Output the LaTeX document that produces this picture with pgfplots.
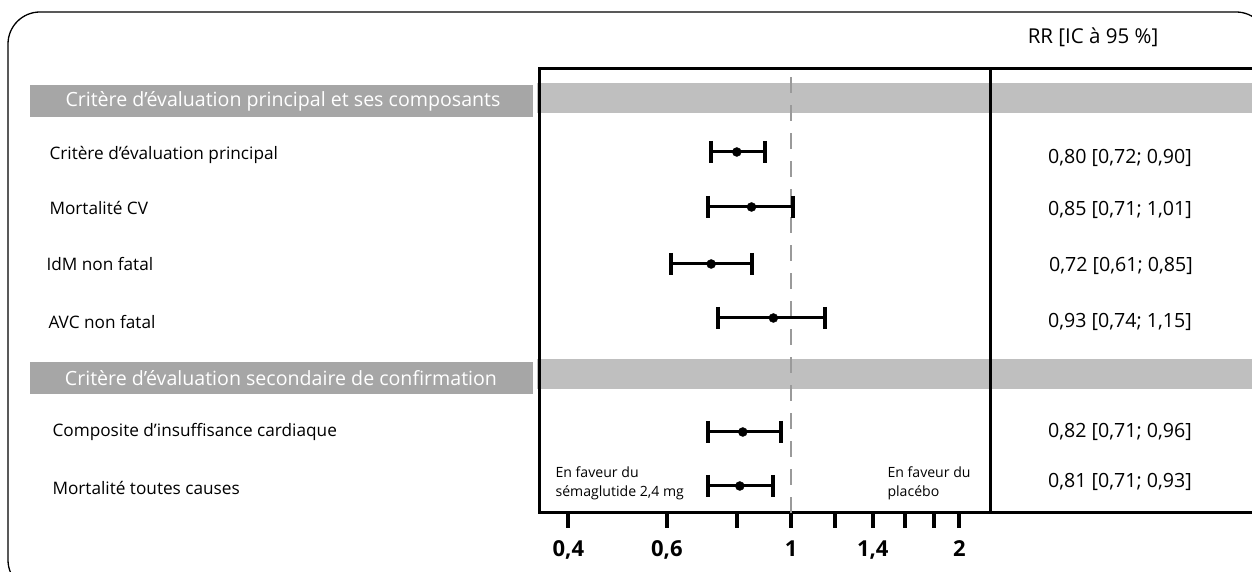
\documentclass[border=0pt]{standalone}
\usepackage{fontspec}
\setmainfont{Open Sans}
\usepackage{pgfplots}
\pgfplotsset{compat=1.18}
\usepackage{pgfplotstable}
\definecolor{bandL}{HTML}{A6A6A6}
\definecolor{bandR}{HTML}{BFBFBF}
\definecolor{dashc}{HTML}{9A9A9A}

% est lo hi y
\pgfplotstableread{
est lo hi y
0.80 0.72 0.90 420
0.85 0.71 1.01 365
0.72 0.61 0.85 308
0.93 0.74 1.15 254
0.82 0.71 0.96 140
0.81 0.71 0.93 86
}\datatable

\begin{document}
\begin{tikzpicture}[x=1pt,y=1pt]
\useasboundingbox (0,0) rectangle (1252,572);
\begin{scope}
\clip (0,0) rectangle (1252,572);
% frame
\draw[line width=1.3pt, rounded corners=32pt] (8,-20) rectangle (1268,560);
% bands
\fill[bandL] (30,455) rectangle (533,487);
\fill[bandR] (537,459) rectangle (1252,489);
\fill[bandL] (30,178) rectangle (533,210);
\fill[bandR] (537,183) rectangle (1252,213);
% header texts
\node[white, font=\fontsize{19.6}{23}\selectfont] at (283,471) {Critère d’évaluation principal et ses composants};
\node[white, font=\fontsize{19.6}{23}\selectfont] at (281,194) {Critère d’évaluation secondaire de confirmation};
% row labels
\begin{scope}[every node/.style={anchor=west, font=\fontsize{17.2}{20}\selectfont}]
\node at (46,417) {Critère d’évaluation principal};
\node at (46,364) {Mortalité CV};
\node at (43,308) {IdM non fatal};
\node at (45,250) {AVC non fatal};
\node at (49,140) {Composite d’insuffisance cardiaque};
\node at (49,84) {Mortalité toutes causes};
\end{scope}
% right column
\node[font=\fontsize{20.5}{24}\selectfont] at (1093,535) {RR [IC à 95 \%]};
\begin{scope}[every node/.style={font=\fontsize{19.6}{22}\selectfont}]
\node at (1120,414) {0,80 [0,72; 0,90]};
\node at (1120,362) {0,85 [0,71; 1,01]};
\node at (1121,306) {0,72 [0,61; 0,85]};
\node at (1120,250) {0,93 [0,74; 1,15]};
\node at (1120,140) {0,82 [0,71; 0,96]};
\node at (1120,90) {0,81 [0,71; 0,93]};
\end{scope}
% table lines extension
\draw[line width=3pt] (539,503) -- (1252,503);
\draw[line width=3pt] (539,59) -- (1252,59);
\end{scope}

\begin{axis}[
  at={(539pt,59pt)}, anchor=south west,
  scale only axis, width=451pt, height=444pt,
  xmode=log, xmin=0.3545, xmax=2.268,
  ymin=59, ymax=503,
  ytick=\empty,
  xtick={0.4,0.6,0.8,1,1.2,1.4,1.6,1.8,2},
  xticklabels={{0,4},{0,6},,1,,{1,4},,,2},
  minor xtick={},
  xtick pos=left, tick align=outside,
  major tick length=15pt,
  x tick style={line width=4pt, black},
  xticklabel style={font=\fontsize{22}{26}\selectfont\bfseries, yshift=-9pt},
  axis line style={line width=3pt},
  clip=false,
]
\addplot[dashc, line width=2.5pt, dash pattern=on 16pt off 12pt] coordinates {(1,59) (1,503)};
\pgfplotsinvokeforeach{0,...,5}{
  \pgfplotstablegetelem{#1}{lo}\of\datatable \let\lo\pgfplotsretval
  \pgfplotstablegetelem{#1}{hi}\of\datatable \let\hi\pgfplotsretval
  \pgfplotstablegetelem{#1}{y}\of\datatable \let\yy\pgfplotsretval
  \edef\temp{\noexpand\addplot[black, line width=3pt, mark=|, mark size=11pt, mark options={line width=4pt}] coordinates {(\lo,\yy) (\hi,\yy)};}
  \temp
}
\addplot[only marks, mark=*, mark size=4.5pt, black] table[x=est, y=y] {\datatable};
\node[anchor=west, align=left, font=\fontsize{14.1}{19}\selectfont] at (axis cs:0.374,89) {En faveur du\\sémaglutide 2,4 mg};
\node[anchor=west, align=left, font=\fontsize{14.1}{19}\selectfont] at (axis cs:1.466,89) {En faveur du\\placébo};
\end{axis}
\end{tikzpicture}
\end{document}
